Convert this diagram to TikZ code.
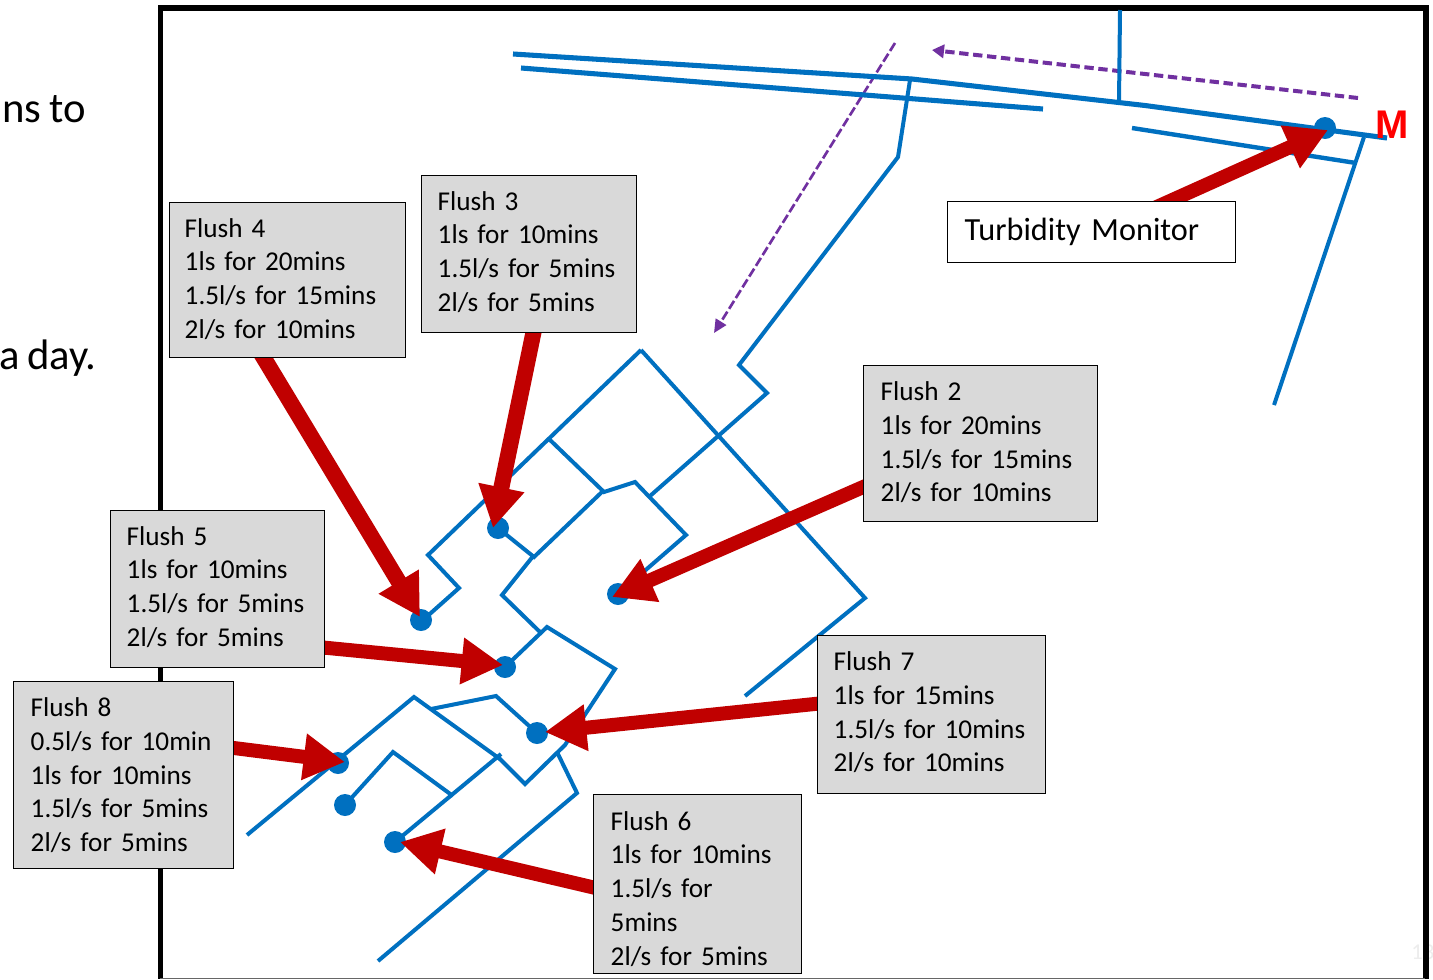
\documentclass[tikz,border=0pt]{standalone}
\usepackage{fontspec}
\setmainfont{Carlito}[WordSpace=0.8]
\newfontfamily\arialfont{Liberation Sans}
\usetikzlibrary{arrows.meta}
\definecolor{pipeblue}{HTML}{0070C0}
\definecolor{flushred}{HTML}{C00000}
\definecolor{flowpurple}{HTML}{7030A0}
\definecolor{boxgrey}{HTML}{D9D9D9}
\newcommand\lastpad[1]{\rule[-#1]{0pt}{0pt}}
\tikzset{
  pipe/.style={draw=pipeblue,line width=3.8pt,line join=miter},
  pipethin/.style={draw=pipeblue,line width=3pt,line join=miter},
  dotnode/.style={circle,fill=pipeblue,inner sep=0pt,minimum size=16.5pt},
  redarrow/.style={draw=flushred,line width=10.5pt,-{Triangle[length=31pt,width=33pt,fill=flushred]}},
  redarrowwide/.style={redarrow,line width=12pt},
  flushbox/.style={draw=black,line width=1.1pt,fill=boxgrey,anchor=north west,align=left,inner xsep=12.75pt,inner ysep=0pt,font=\fontsize{20.4}{25.3}\selectfont},
  flowA/.style={draw=flowpurple,line width=3pt,dash pattern=on 7pt off 3.5pt,-{Triangle[length=9pt,width=10pt,fill=flowpurple]}},
  flowB/.style={draw=flowpurple,line width=2pt,dash pattern=on 7pt off 2.5pt,-{Triangle[length=10pt,width=9pt,fill=flowpurple]}},
  bigtext/.style={font=\fontsize{32}{38}\selectfont,anchor=base east,inner sep=0pt}
}
\begin{document}
\begin{tikzpicture}[x=0.75pt,y=-0.75pt]
\useasboundingbox (0,0) rectangle (1433,979);
\fill[white] (0,0) rectangle (1433,979);
% text cut off at the left of the slide
\node[bigtext] (t1) at (86,122) {ns to};
\node[bigtext] (t2) at (97,369) {a day.};
% faint page number
\node[font=\fontsize{17}{20}\selectfont,text=black!7,anchor=base west,inner sep=0pt] (pg) at (1411,959) {13};
% frame
\draw[black,line width=4.5pt] (1425.5,8) -- (1425.5,979);
\draw[black,line width=4pt] (160.5,8) -- (160.5,979);
\draw[black,line width=4.5pt] (158,8) -- (1428.5,8);
\draw[black!60,line width=1.2pt] (160,978.3) -- (1425,978.3);
% flow directions
\coordinate (fa1) at (1358,98); \coordinate (fa2) at (932,50);
\coordinate (fb1) at (895,43);  \coordinate (fb2) at (714,333);
\draw[flowA] (fa1) -- (fa2);
\draw[flowB] (fb1) -- (fb2);
% mains
\draw[pipe] (513,54) -- (912,79) -- (1145,105.5) -- (1387,138);
\draw[pipe] (521,68) -- (1043,109);
\draw[pipethin] (1120,10) -- (1119,102);
\draw[pipethin] (910,80) -- (898,157) -- (739,365) -- (767,393) -- (650,496);
\draw[pipe,line width=3.3pt] (1132,128) -- (1356,163);
\draw[pipethin] (1364,137) -- (1274,405);
% network
\draw[pipethin] (641,350) -- (428,555) -- (459,588) -- (423,620);
\draw[pipethin] (641,350) -- (865,598) -- (745,696);
\draw[pipethin] (549,439) -- (604,492) -- (635,482) -- (686,535) -- (618,594);
\draw[pipethin] (604,490) -- (534,557) -- (498,528);
\draw[pipethin] (534,555) -- (502,595) -- (541,633);
\draw[pipethin] (505,667) -- (547,627) -- (615,669) -- (565,745) -- (525,784) -- (498,757);
\draw[pipethin] (247,835) -- (414,697) -- (500,759);
\draw[pipethin] (431,709) -- (496,696) -- (537,733);
\draw[pipethin] (501,754) -- (395,842);
\draw[pipethin] (345,805) -- (393,752) -- (453,796);
\draw[pipethin] (557,752) -- (577,793) -- (378,961);
% monitoring points
\node[dotnode] (dM) at (1325,128) {};
\node[dotnode] (d2) at (618,594) {};
\node[dotnode] (d3) at (498,528) {};
\node[dotnode] (d4) at (421,620) {};
\node[dotnode] (d5) at (505,667) {};
\node[dotnode] (d7) at (537,733) {};
\node[dotnode] (d8) at (338,763) {};
\node[dotnode] (dx) at (345,805) {};
\node[dotnode] (d6) at (395,842) {};
% red arrows
\coordinate (s4) at (259,350); \coordinate (e4) at (420,617);
\coordinate (s3) at (535,325); \coordinate (e3) at (493,528);
\coordinate (s2) at (870,484); \coordinate (e2) at (612,597);
\coordinate (s5) at (318,647); \coordinate (e5) at (503,665);
\coordinate (s7) at (824,703); \coordinate (e7) at (545,732);
\coordinate (s8) at (226,747); \coordinate (e8) at (345,762);
\coordinate (s6) at (600,889); \coordinate (e6) at (400,842);
\coordinate (sT) at (1150,210); \coordinate (eT) at (1328,130);
\draw[redarrowwide] (s4) -- (e4);
\draw[redarrowwide] (s3) -- (e3);
\draw[redarrow] (s2) -- (e2);
\draw[redarrow] (s5) -- (e5);
\draw[redarrow] (s7) -- (e7);
\draw[redarrow] (s8) -- (e8);
\draw[redarrow] (s6) -- (e6);
\draw[redarrow] (sT) -- (eT);
% labels
\node[flushbox,minimum width=177pt,minimum height=116.25pt,text width=154.5pt,inner xsep=11.25pt] (f4) at (169,202)
  {Flush 4\\1ls for 20mins\\1.5l/s for 15mins\\2l/s for 10mins\lastpad{3pt}};
\node[flushbox,minimum width=161.25pt,minimum height=117.75pt,text width=137.25pt,inner xsep=12pt] (f3) at (421,175)
  {Flush 3\\1ls for 10mins\\1.5l/s for 5mins\\2l/s for 5mins\lastpad{4.5pt}};
\node[flushbox,minimum width=175.5pt,minimum height=117pt,text width=150pt] (f2) at (863,365)
  {Flush 2\\1ls for 20mins\\1.5l/s for 15mins\\2l/s for 10mins\lastpad{3pt}};
\node[flushbox,minimum width=160.5pt,minimum height=117.75pt,text width=136.5pt,inner xsep=12pt] (f5) at (110,510)
  {Flush 5\\1ls for 10mins\\1.5l/s for 5mins\\2l/s for 5mins\lastpad{4.5pt}};
\node[flushbox,minimum width=165pt,minimum height=140.25pt,text width=139.5pt] (f8) at (13,681)
  {Flush 8\\0.5l/s for 10min\\1ls for 10mins\\1.5l/s for 5mins\\2l/s for 5mins};
\node[flushbox,minimum width=171pt,minimum height=118.5pt,text width=147pt,inner xsep=12pt] (f7) at (817,635)
  {Flush 7\\1ls for 15mins\\1.5l/s for 10mins\\2l/s for 10mins\lastpad{4.5pt}};
\node[flushbox,minimum width=156pt,minimum height=134.25pt,text width=130.5pt] (f6) at (593,794)
  {\rule{0pt}{21pt}Flush 6\\1ls for 10mins\\1.5l/s for\\5mins\\2l/s for 5mins};
\node[flushbox,fill=white,minimum width=216pt,minimum height=45.75pt,text width=190.5pt,font=\fontsize{24.2}{28}\selectfont] (fT) at (947,201)
  {Turbidity Monitor};
\node[text=red,font=\arialfont\bfseries\fontsize{30}{34}\selectfont,inner sep=0pt,anchor=base] (mM) at (1392,138) {M};
\end{tikzpicture}
\end{document}
